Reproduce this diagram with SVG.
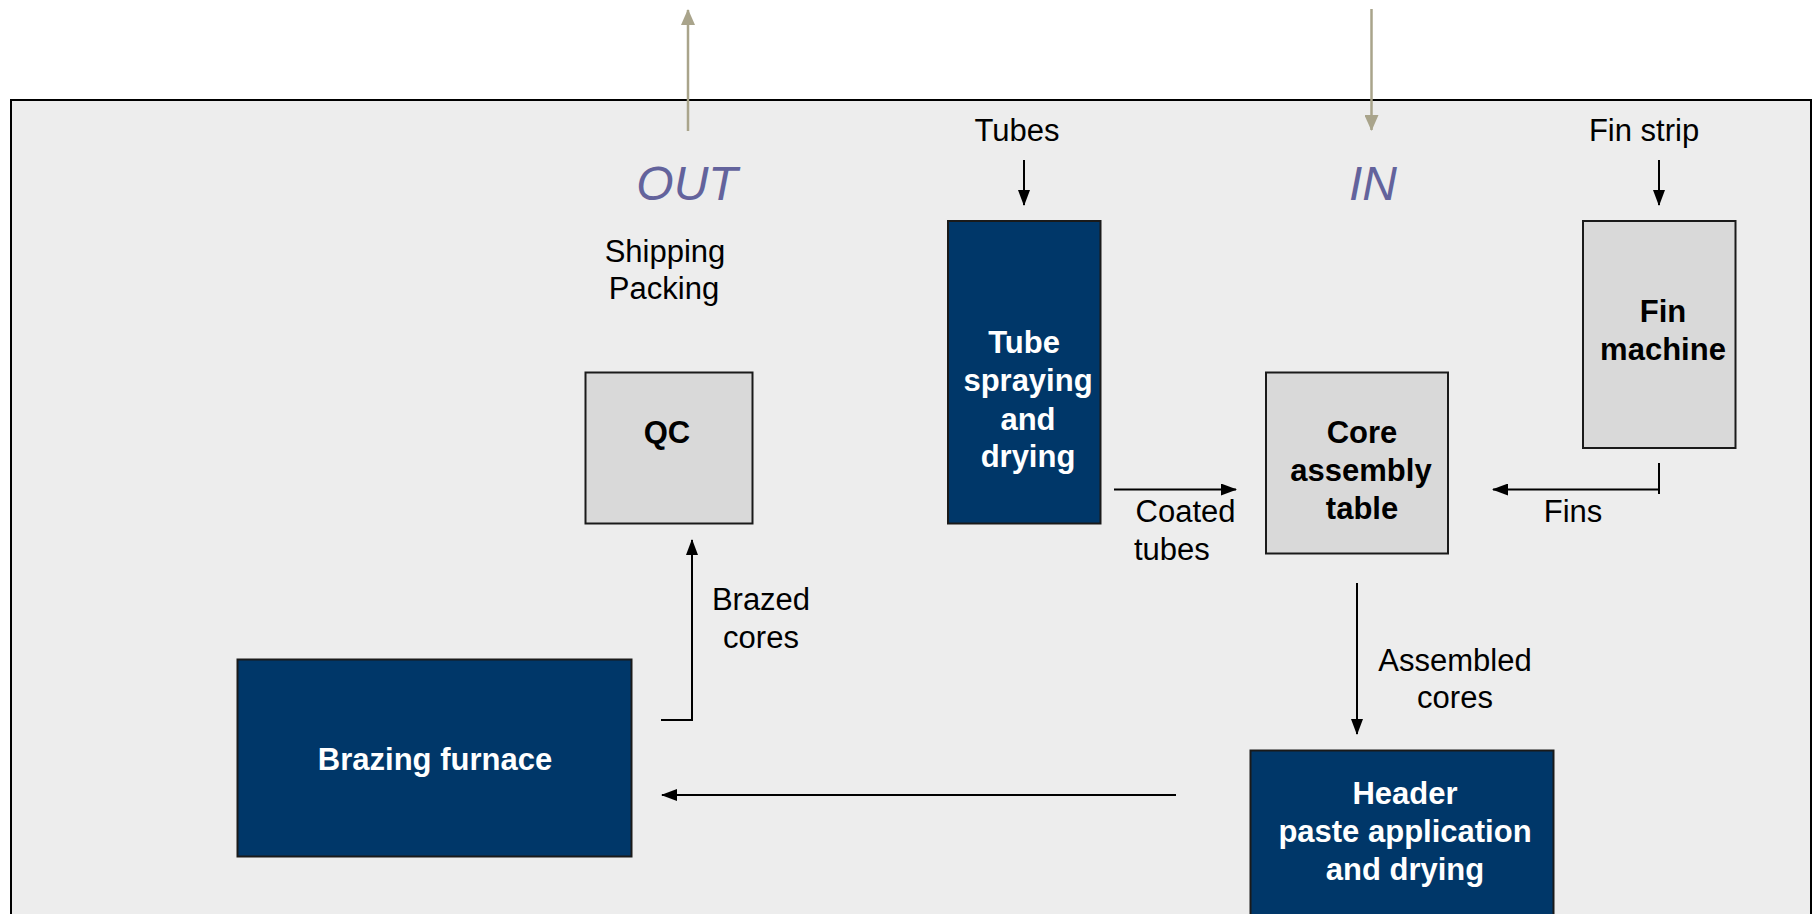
<svg xmlns="http://www.w3.org/2000/svg" width="1816" height="914" viewBox="0 0 1816 914">
<defs>
<style>
.lbl{font-family:"Liberation Sans",Arial,sans-serif;font-size:31px;fill:#000;text-anchor:middle}
.blue{fill:#003769;stroke:#1a1a1a;stroke-width:2}
.gray{fill:#D9D9D9;stroke:#1a1a1a;stroke-width:2}
.wt{font-family:"Liberation Sans",Arial,sans-serif;font-size:31px;font-weight:bold;fill:#fff;text-anchor:middle}
.bt{font-family:"Liberation Sans",Arial,sans-serif;font-size:31px;font-weight:bold;fill:#000;text-anchor:middle}
.io{font-family:"Liberation Sans",Arial,sans-serif;font-size:48px;font-style:italic;fill:#63639C;text-anchor:middle}
.c{fill:none;stroke:#000;stroke-width:2}
.t{fill:none;stroke:#A9A48B;stroke-width:2.5}
</style>
<marker id="ah" markerUnits="userSpaceOnUse" markerWidth="16" markerHeight="12" refX="15" refY="6" orient="auto">
<path d="M0,0 L16,6 L0,12 Z" fill="#000"/>
</marker>
<marker id="ta" markerUnits="userSpaceOnUse" markerWidth="16" markerHeight="14" refX="15" refY="7" orient="auto">
<path d="M0,0 L16,7 L0,14 Z" fill="#A9A48B"/>
</marker>
</defs>
<rect x="0" y="0" width="1816" height="914" fill="#fff"/>
<rect id="frame" x="11" y="100" width="1800" height="830" fill="#EDEDED" stroke="#000" stroke-width="2"/>

<g id="connectors">
<line class="t" x1="688" y1="131" x2="688" y2="10" marker-end="url(#ta)"/>
<line class="t" x1="1371.5" y1="9" x2="1371.5" y2="130" marker-end="url(#ta)"/>
<line class="c" x1="1024" y1="160" x2="1024" y2="205" marker-end="url(#ah)"/>
<line class="c" x1="1659" y1="160" x2="1659" y2="205" marker-end="url(#ah)"/>
<line class="c" x1="1114" y1="489.5" x2="1236" y2="489.5" marker-end="url(#ah)"/>
<line class="c" x1="1659" y1="463" x2="1659" y2="494"/>
<line class="c" x1="1659" y1="489.5" x2="1493" y2="489.5" marker-end="url(#ah)"/>
<line class="c" x1="1357" y1="583" x2="1357" y2="734" marker-end="url(#ah)"/>
<line class="c" x1="1176" y1="795" x2="662" y2="795" marker-end="url(#ah)"/>
<polyline class="c" points="661,720 692,720 692,540" marker-end="url(#ah)"/>
</g>

<g id="labels">
<text class="io" x="687" y="200">OUT</text>
<text class="io" x="1373" y="200">IN</text>
<text class="lbl" x="665" y="262">Shipping</text>
<text class="lbl" x="664" y="299">Packing</text>
<text class="lbl" x="1017" y="141">Tubes</text>
<text class="lbl" x="1644" y="141">Fin strip</text>
<text class="lbl" x="1185.5" y="521.5">Coated</text>
<text class="lbl" x="1134" y="559.5" style="text-anchor:start">tubes</text>
<text class="lbl" x="1573" y="521.5">Fins</text>
<text class="lbl" x="1455" y="670.5">Assembled</text>
<text class="lbl" x="1455" y="708">cores</text>
<text class="lbl" x="761" y="610">Brazed</text>
<text class="lbl" x="761" y="648">cores</text>
</g>

<g id="qc">
<rect class="gray" x="585.5" y="372.5" width="167" height="151"/>
<text class="bt" x="667" y="443">QC</text>
</g>
<g id="tube-spraying">
<rect class="blue" x="948" y="221" width="152.5" height="302.5"/>
<text class="wt" x="1024" y="353">Tube</text>
<text class="wt" x="1028" y="391">spraying</text>
<text class="wt" x="1028" y="429.5">and</text>
<text class="wt" x="1028" y="467">drying</text>
</g>
<g id="fin-machine">
<rect class="gray" x="1583" y="221" width="152.5" height="227"/>
<text class="bt" x="1663" y="322">Fin</text>
<text class="bt" x="1663" y="360">machine</text>
</g>
<g id="core-assembly">
<rect class="gray" x="1266" y="372.5" width="182" height="181"/>
<text class="bt" x="1362" y="443">Core</text>
<text class="bt" x="1361" y="481">assembly</text>
<text class="bt" x="1362" y="519">table</text>
</g>
<g id="brazing-furnace">
<rect class="blue" x="237.5" y="659.5" width="394" height="197"/>
<text class="wt" x="435" y="770">Brazing furnace</text>
</g>
<g id="header-paste">
<rect class="blue" x="1250.5" y="750.5" width="303" height="200"/>
<text class="wt" x="1405" y="804">Header</text>
<text class="wt" x="1405" y="842">paste application</text>
<text class="wt" x="1405" y="880">and drying</text>
</g>
</svg>
